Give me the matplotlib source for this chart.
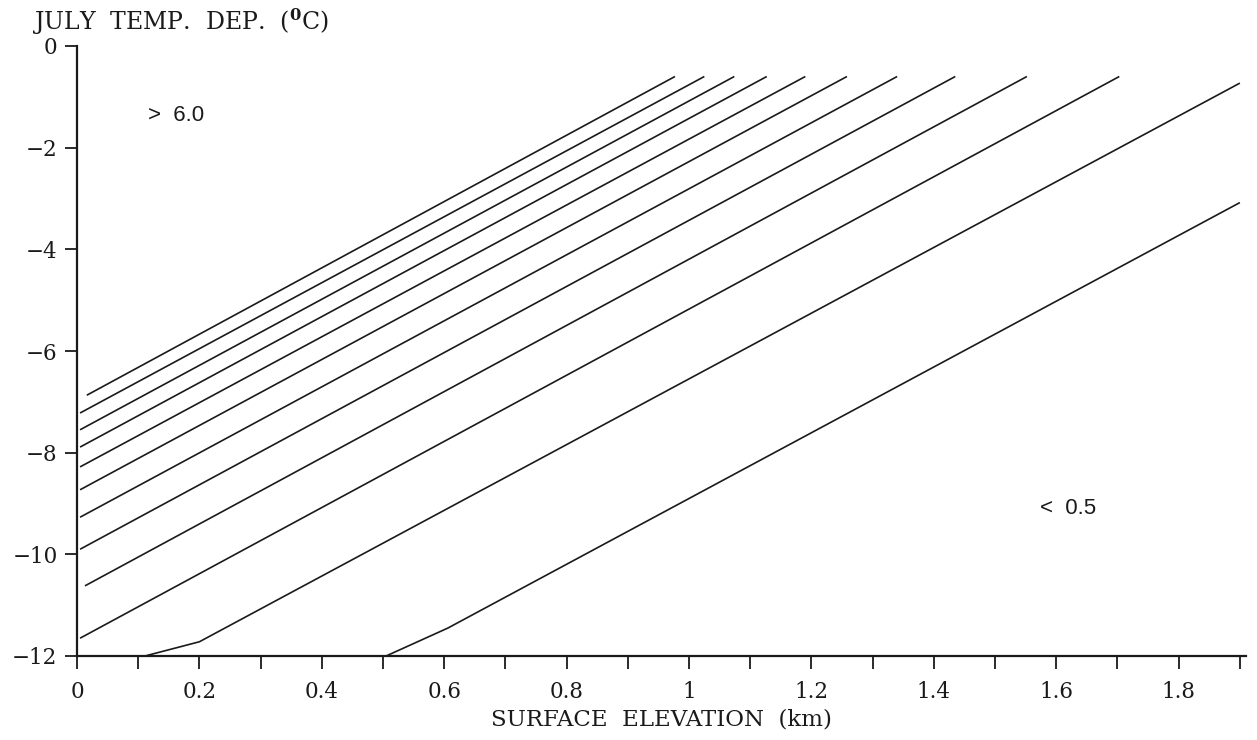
import matplotlib
matplotlib.use("Agg")
import matplotlib.pyplot as plt
from matplotlib.ticker import FixedLocator, FuncFormatter

# ---- data ----
# contour lines, listed as vertices (x: surface elevation km, y: July temp. departure degC)
contour_x = [
    [0.016, 0.977],
    [0.005, 1.025],
    [0.005, 1.074],
    [0.005, 1.127],
    [0.005, 1.190],
    [0.005, 1.258],
    [0.005, 1.340],
    [0.005, 1.435],
    [0.013, 1.552],
    [0.005, 1.703],
    [0.111, 0.200, 1.900],
    [0.505, 0.606, 1.900],
]
contour_y = [
    [-6.87, -0.60],
    [-7.22, -0.60],
    [-7.55, -0.60],
    [-7.89, -0.60],
    [-8.28, -0.60],
    [-8.73, -0.60],
    [-9.27, -0.60],
    [-9.90, -0.60],
    [-10.62, -0.60],
    [-11.65, -0.60],
    [-12.00, -11.72, -0.73],
    [-12.00, -11.45, -3.08],
]
x_major_ticks = [0, 0.2, 0.4, 0.6, 0.8, 1.0, 1.2, 1.4, 1.6, 1.8]
x_minor_ticks = [0.1, 0.3, 0.5, 0.7, 0.9, 1.1, 1.3, 1.5, 1.7, 1.9]
y_ticks = [0, -2, -4, -6, -8, -10, -12]
label_high = ">  6.0"
label_low = "<  0.5"
label_high_pos = (0.116, -1.36)
label_low_pos = (1.573, -9.09)

plt.rcParams['mathtext.fontset'] = 'dejavuserif'
serif = 'DejaVu Serif'
ink = '#1a1a1a'

fig = plt.figure(figsize=(12.57, 7.40), dpi=100)
ax = fig.add_axes([77/1257, 1 - 656/740, (1246-77)/1257, (656-46)/740])

for xs, ys in zip(contour_x, contour_y):
    ax.plot(xs, ys, color=ink, linewidth=1.2, solid_capstyle='butt')

ax.set_xlim(0, 1.91)
ax.set_ylim(-12, 0)

for s in ['top', 'right']:
    ax.spines[s].set_visible(False)
for s in ['left', 'bottom']:
    ax.spines[s].set_linewidth(1.6)
    ax.spines[s].set_color(ink)

ax.xaxis.set_major_locator(FixedLocator(x_major_ticks))
ax.xaxis.set_minor_locator(FixedLocator(x_minor_ticks))
ax.xaxis.set_major_formatter(FuncFormatter(lambda v, p: f"{v:g}"))
ax.yaxis.set_major_locator(FixedLocator(y_ticks))
ax.yaxis.set_major_formatter(FuncFormatter(lambda v, p: f"{v:g}".replace('-', '\u2212')))

ax.tick_params(axis='x', which='both', direction='out', length=9, width=1.3, color=ink)
ax.tick_params(axis='x', which='major', pad=9, labelsize=15.5)
ax.tick_params(axis='y', which='major', direction='out', length=9, width=1.3, color=ink,
               pad=5, labelsize=15.5)
for lab in ax.get_xticklabels() + ax.get_yticklabels():
    lab.set_fontfamily(serif)
    lab.set_color(ink)

ax.set_xlabel('SURFACE  ELEVATION  (km)', fontsize=16.5, family=serif, color=ink, labelpad=4)

fig.text(32/1257, 1 - 22/740, r'JULY  TEMP.  DEP.  ($^{\mathbf{0}}$C)', fontsize=17,
         family=serif, color=ink, ha='left', va='center')

ax.text(label_high_pos[0], label_high_pos[1], label_high, fontsize=16,
        family='Liberation Sans', color=ink, ha='left', va='center')
ax.text(label_low_pos[0], label_low_pos[1], label_low, fontsize=16,
        family='Liberation Sans', color=ink, ha='left', va='center')

fig.savefig('out.png', dpi=100)
